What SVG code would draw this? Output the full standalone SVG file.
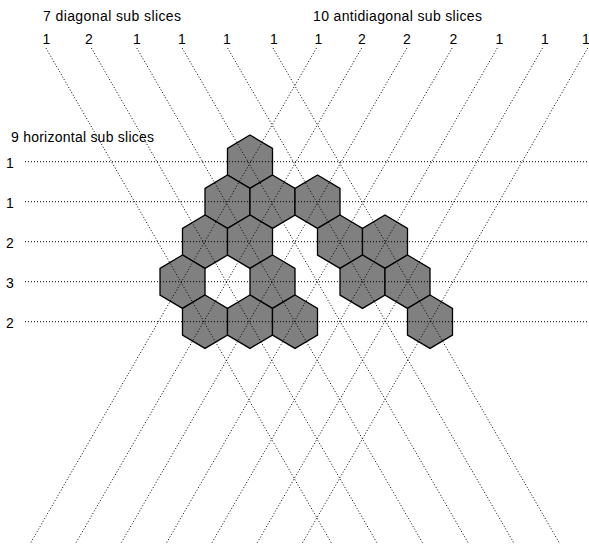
<svg xmlns="http://www.w3.org/2000/svg" width="589" height="547" viewBox="0 0 589 547">
  <style>
    .lbl { font-family: "Liberation Sans", Arial, sans-serif; font-size: 14px; fill: #000; }
    .mid { text-anchor: middle; }
    .hex { fill: #808080; stroke: #000; stroke-width: 1.3; stroke-linejoin: miter; }
    .slice { stroke: #000; stroke-width: 1; stroke-dasharray: 1 2; fill: none; }
  </style>
  <defs>
    <!-- hexagon cell, centred on the origin -->
    <polygon id="cell" class="hex" points="0,-26.67 22.5,-13.33 22.5,13.33 0,26.67 -22.5,13.33 -22.5,-13.33"/>
  </defs>

  <rect width="589" height="547" fill="#fff"/>

  <!-- captions -->
  <text class="lbl" x="43" y="21" textLength="138" lengthAdjust="spacing">7 diagonal sub slices</text>
  <text class="lbl" x="313" y="21" textLength="169" lengthAdjust="spacing">10 antidiagonal sub slices</text>
  <text class="lbl" x="11" y="142" textLength="143" lengthAdjust="spacing">9 horizontal sub slices</text>

  <!-- counts per diagonal slice -->
  <g id="diag-counts">
    <text class="lbl mid" x="46.5" y="43.5">1</text>
    <text class="lbl mid" x="89" y="43.5">2</text>
    <text class="lbl mid" x="137" y="43.5">1</text>
    <text class="lbl mid" x="182" y="43.5">1</text>
    <text class="lbl mid" x="227" y="43.5">1</text>
    <text class="lbl mid" x="274" y="43.5">1</text>
  </g>
  <!-- counts per antidiagonal slice -->
  <g id="anti-counts">
    <text class="lbl mid" x="318.5" y="43.5">1</text>
    <text class="lbl mid" x="362" y="43.5">2</text>
    <text class="lbl mid" x="407" y="43.5">2</text>
    <text class="lbl mid" x="453.5" y="43.5">2</text>
    <text class="lbl mid" x="499.5" y="43.5">1</text>
    <text class="lbl mid" x="545" y="43.5">1</text>
    <text class="lbl mid" x="586" y="43.5">1</text>
  </g>
  <!-- counts per horizontal slice -->
  <g id="row-counts">
    <text class="lbl" x="6" y="168">1</text>
    <text class="lbl" x="6" y="208">1</text>
    <text class="lbl" x="6" y="248">2</text>
    <text class="lbl" x="6" y="288">3</text>
    <text class="lbl" x="6" y="328">2</text>
  </g>

  <!-- cells -->
  <g id="cells">
    <g id="c0-0"><use href="#cell" x="250" y="161.7"/></g>
    <g id="c1-0"><use href="#cell" x="227.5" y="201.7"/></g>
    <g id="c1-1"><use href="#cell" x="272.5" y="201.7"/></g>
    <g id="c1-2"><use href="#cell" x="317.5" y="201.7"/></g>
    <g id="c2-0"><use href="#cell" x="205" y="241.7"/></g>
    <g id="c2-1"><use href="#cell" x="250" y="241.7"/></g>
    <g id="c2-2"><use href="#cell" x="340" y="241.7"/></g>
    <g id="c2-3"><use href="#cell" x="385" y="241.7"/></g>
    <g id="c3-0"><use href="#cell" x="182.5" y="281.7"/></g>
    <g id="c3-1"><use href="#cell" x="272.5" y="281.7"/></g>
    <g id="c3-2"><use href="#cell" x="362.5" y="281.7"/></g>
    <g id="c3-3"><use href="#cell" x="407.5" y="281.7"/></g>
    <g id="c4-0"><use href="#cell" x="205" y="321.7"/></g>
    <g id="c4-1"><use href="#cell" x="250" y="321.7"/></g>
    <g id="c4-2"><use href="#cell" x="295" y="321.7"/></g>
    <g id="c4-3"><use href="#cell" x="430" y="321.7"/></g>
  </g>

  <!-- slice lines -->
  <g id="slices">
    <!-- horizontal -->
    <line class="slice" x1="25" y1="161.7" x2="589" y2="161.7"/>
    <line class="slice" x1="25" y1="201.7" x2="589" y2="201.7"/>
    <line class="slice" x1="25" y1="241.7" x2="589" y2="241.7"/>
    <line class="slice" x1="25" y1="281.7" x2="589" y2="281.7"/>
    <line class="slice" x1="25" y1="321.7" x2="589" y2="321.7"/>
    <!-- diagonal (down-right) -->
    <line class="slice" x1="46" y1="48" x2="332" y2="544"/>
    <line class="slice" x1="91.4" y1="48" x2="377.6" y2="544"/>
    <line class="slice" x1="136.8" y1="48" x2="423.2" y2="544"/>
    <line class="slice" x1="182.2" y1="48" x2="468.8" y2="544"/>
    <line class="slice" x1="227.6" y1="48" x2="514.4" y2="544"/>
    <line class="slice" x1="273" y1="48" x2="560" y2="544"/>
    <!-- antidiagonal (down-left) -->
    <line class="slice" x1="316.5" y1="48" x2="30" y2="544"/>
    <line class="slice" x1="361.7" y1="48" x2="75.3" y2="544"/>
    <line class="slice" x1="406.9" y1="48" x2="120.6" y2="544"/>
    <line class="slice" x1="452.1" y1="48" x2="165.9" y2="544"/>
    <line class="slice" x1="497.3" y1="48" x2="211.2" y2="544"/>
    <line class="slice" x1="542.5" y1="48" x2="256.5" y2="544"/>
    <line class="slice" x1="587.7" y1="48" x2="301.8" y2="544"/>
  </g>
</svg>
